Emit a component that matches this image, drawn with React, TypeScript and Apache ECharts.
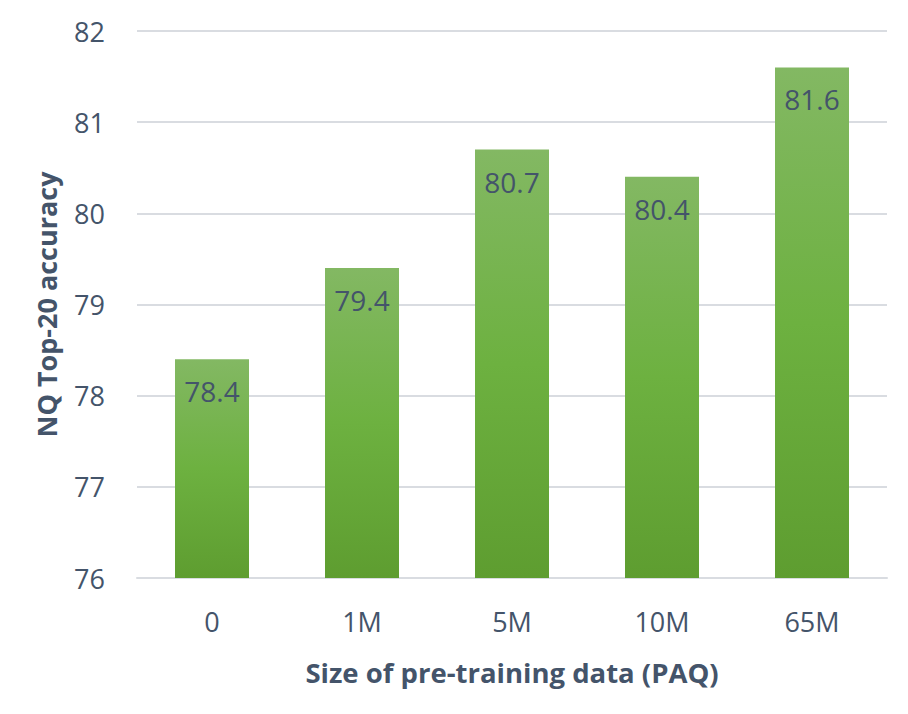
import React, { useEffect, useRef } from "react";
import * as echarts from "echarts";

const categories = ["0", "1M", "5M", "10M", "65M"];
const accuracy = [78.4, 79.4, 80.7, 80.4, 81.6];
const yMin = 76;
const yMax = 82;
const yInterval = 1;

const TEXT = "#44546A";
const GRID = "#D9DCE1";
const FONT = "'Open Sans', 'Noto Sans', sans-serif";

export default function App() {
  const ref = useRef<HTMLDivElement>(null);
  useEffect(() => {
    if (!ref.current) return;
    const chart = echarts.init(ref.current, undefined, { renderer: "svg" });
    chart.setOption({
      animation: false,
      backgroundColor: "#ffffff",
      grid: { left: 129, right: 13, top: 23, bottom: 128, containLabel: false },
      xAxis: {
        type: "category",
        data: categories,
        name: "Size of pre-training data (PAQ)",
        nameLocation: "middle",
        nameGap: 80,
        nameTextStyle: { color: TEXT, fontSize: 27.5, fontWeight: "bold", fontFamily: FONT },
        axisLine: { show: true, lineStyle: { color: GRID, width: 2 } },
        axisTick: { show: false },
        axisLabel: { color: TEXT, fontSize: 27, fontFamily: FONT, margin: 30 },
      },
      yAxis: {
        type: "value",
        min: yMin,
        max: yMax,
        interval: yInterval,
        name: "NQ Top-20 accuracy",
        nameLocation: "middle",
        nameGap: 77,
        nameRotate: 90,
        nameTextStyle: { color: TEXT, fontSize: 27, fontWeight: "bold", fontFamily: FONT },
        axisLine: { show: false },
        axisTick: { show: false },
        axisLabel: { color: TEXT, fontSize: 27, fontFamily: FONT, margin: 32 },
        splitLine: { lineStyle: { color: GRID, width: 2 } },
      },
      series: [
        {
          type: "bar",
          data: accuracy,
          barWidth: 74,
          itemStyle: {
            color: new echarts.graphic.LinearGradient(0, 0, 0, 1, [
              { offset: 0, color: "#83B863" },
              { offset: 0.5, color: "#6DB140" },
              { offset: 1, color: "#5E9D30" },
            ]),
          },
          label: {
            show: true,
            position: "insideTop",
            distance: 18,
            color: TEXT,
            fontSize: 28,
            fontFamily: FONT,
            formatter: (p: any) => p.value.toFixed(1),
          },
        },
      ],
    });
    return () => chart.dispose();
  }, []);
  return <div ref={ref} style={{ width: 892, height: 698 }} />;
}
